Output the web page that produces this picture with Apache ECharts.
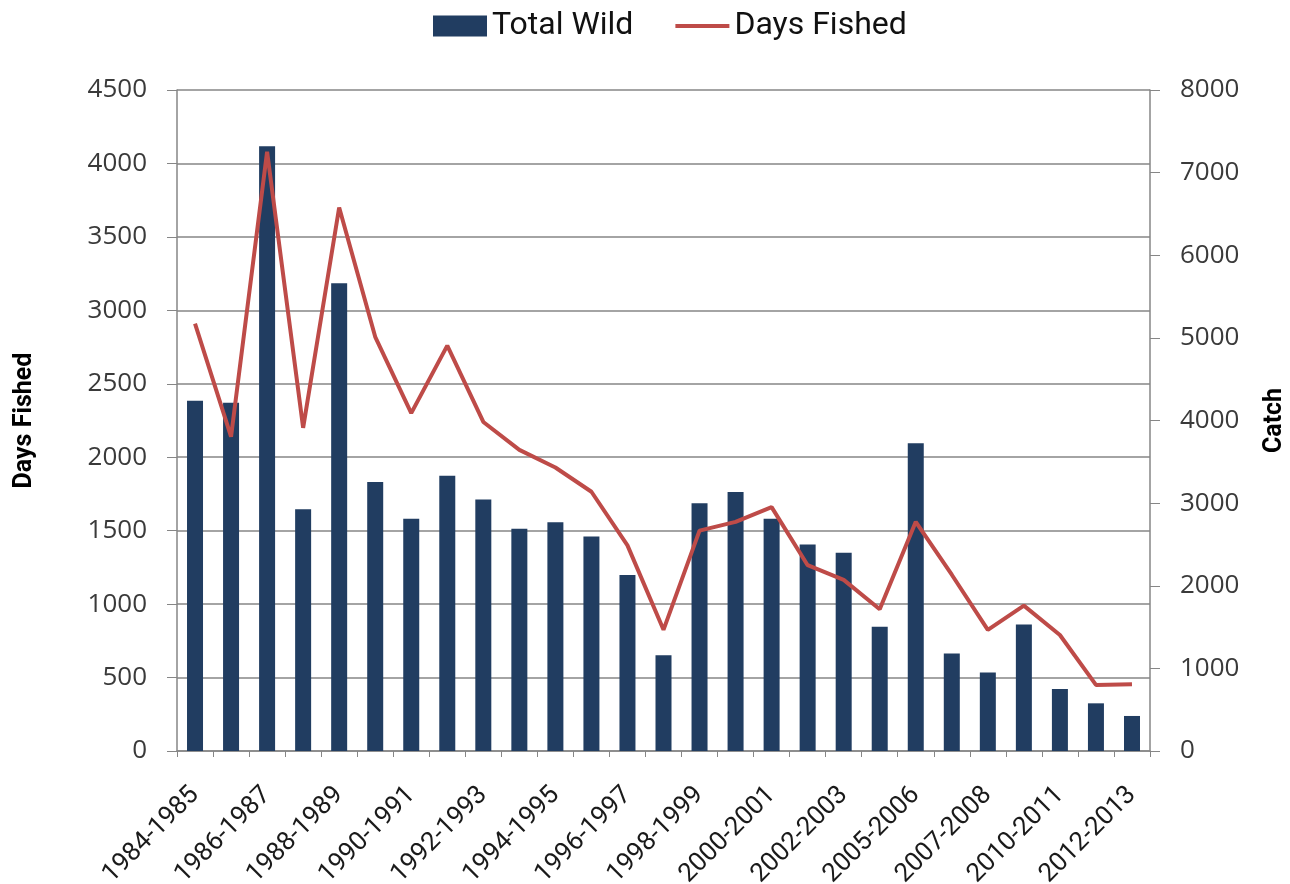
<!DOCTYPE html>
<html>
<head>
<meta charset="utf-8">
<script src="https://cdn.jsdelivr.net/npm/echarts@6/dist/echarts.min.js"></script>
<style>
  html, body { margin: 0; padding: 0; background: #ffffff; }
  #chart { width: 1290px; height: 884px; }
</style>
</head>
<body>
<div id="chart"></div>
<script>
// Fishing seasons (category axis)
const seasons = [
  '1984-1985', '1985-1986', '1986-1987', '1987-1988', '1988-1989', '1989-1990',
  '1990-1991', '1991-1992', '1992-1993', '1993-1994', '1994-1995', '1995-1996',
  '1996-1997', '1997-1998', '1998-1999', '1999-2000', '2000-2001', '2001-2002',
  '2002-2003', '2003-2004', '2005-2006', '2006-2007', '2007-2008', '2008-2009',
  '2010-2011', '2011-2012', '2012-2013'
];

// Total wild catch per season (right axis, "Catch")
const totalWild = [
  4240, 4215, 7320, 2925, 5660, 3255,
  2810, 3330, 3045, 2690, 2770, 2595,
  2130, 1160, 3000, 3135, 2810, 2500,
  2400, 1505, 3725, 1180, 950, 1530,
  750, 577, 424
];

// Days fished per season (left axis, "Days Fished")
const daysFished = [
  2910, 2140, 4080, 2200, 3700, 2820,
  2300, 2760, 2240, 2050, 1930, 1765,
  1400, 825, 1500, 1560, 1660, 1265,
  1165, 965, 1560, 1200, 825, 990,
  790, 450, 455
];

// Axis ranges
const daysAxis = { min: 0, max: 4500, interval: 500 };
const catchAxis = { min: 0, max: 8000, interval: 1000 };

const axisGrey = '#868686';
const lineRed = '#BE4B48';
const tickFont = {
  fontFamily: 'Open Sans', fontSize: 26, color: '#3a3a3a',
  formatter: (v) => String(v)
};

const chart = echarts.init(document.getElementById('chart'), null, { renderer: 'canvas' });

chart.setOption({
  animation: false,
  backgroundColor: '#ffffff',
  legend: {
    top: 5,
    left: 428,
    itemWidth: 54,
    itemHeight: 21,
    itemGap: 42,
    textStyle: { fontFamily: 'Roboto', fontSize: 32, color: '#111111' },
    data: [
      { name: 'Total Wild', icon: 'rect' },
      { name: 'Days Fished', icon: 'path://M0,0 L54,0 L54,4 L0,4 Z', itemStyle: { color: lineRed } }
    ]
  },
  grid: { left: 177, right: 140, top: 90, bottom: 133, containLabel: false, outerBoundsMode: 'none' },
  xAxis: {
    type: 'category',
    data: seasons,
    boundaryGap: true,
    axisLine: { lineStyle: { color: axisGrey, width: 1.5 } },
    axisTick: { show: true, interval: 0, length: 6, lineStyle: { color: axisGrey } },
    axisLabel: {
      interval: 1,
      rotate: 45,
      margin: 40,
      fontFamily: 'Roboto',
      fontSize: 26,
      color: '#1a1a1a'
    }
  },
  yAxis: [
    {
      type: 'value',
      name: 'Days Fished',
      nameLocation: 'middle',
      nameGap: 140,
      nameTextStyle: { fontFamily: 'Roboto', fontWeight: 'bold', fontSize: 25, color: '#000000' },
      min: daysAxis.min,
      max: daysAxis.max,
      interval: daysAxis.interval,
      axisLine: { show: true, lineStyle: { color: axisGrey, width: 1.5 } },
      axisTick: { show: true, length: 10, lineStyle: { color: axisGrey } },
      axisLabel: Object.assign({ margin: 30 }, tickFont),
      splitLine: { show: true, lineStyle: { color: axisGrey, width: 1.5 } }
    },
    {
      type: 'value',
      name: 'Catch',
      nameLocation: 'middle',
      nameGap: 112,
      nameTextStyle: { fontFamily: 'Roboto', fontWeight: 'bold', fontSize: 25, color: '#000000' },
      min: catchAxis.min,
      max: catchAxis.max,
      interval: catchAxis.interval,
      position: 'right',
      axisLine: { show: true, lineStyle: { color: axisGrey, width: 1.5 } },
      axisTick: { show: true, length: 10, lineStyle: { color: axisGrey } },
      axisLabel: Object.assign({ margin: 30 }, tickFont),
      splitLine: { show: false }
    }
  ],
  series: [
    {
      name: 'Total Wild',
      type: 'bar',
      yAxisIndex: 1,
      data: totalWild,
      barWidth: 16,
      itemStyle: { color: '#213D61' },
      z: 2
    },
    {
      name: 'Days Fished',
      type: 'line',
      yAxisIndex: 0,
      data: daysFished,
      symbol: 'none',
      lineStyle: { color: lineRed, width: 4 },
      itemStyle: { color: lineRed },
      z: 3
    }
  ]
});
</script>
</body>
</html>
